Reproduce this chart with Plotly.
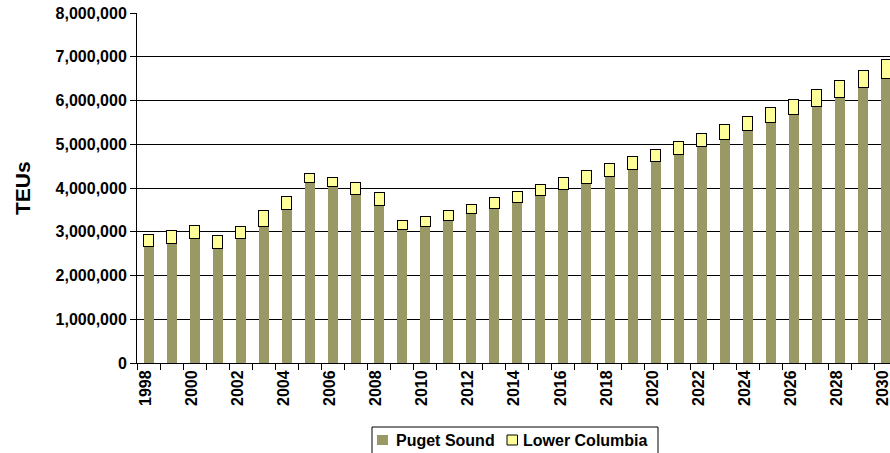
import plotly.graph_objects as go

years = list(range(1998, 2031))
puget_sound = [
    2665000, 2727000, 2841000, 2606000, 2857000, 3131000, 3520000, 4137000,
    4023000, 3847000, 3595000, 3047000, 3122000, 3260000, 3406000, 3534000,
    3671000, 3824000, 3961000, 4114000, 4265000, 4434000, 4608000, 4761000,
    4944000, 5120000, 5310000, 5486000, 5675000, 5874000, 6080000, 6308000,
    6514000,
]
lower_columbia = [
    261000, 297000, 297000, 297000, 258000, 357000, 281000, 190000,
    228000, 281000, 291000, 199000, 222000, 237000, 228000, 251000,
    251000, 251000, 268000, 275000, 297000, 281000, 283000, 304000,
    313000, 327000, 313000, 349000, 359000, 373000, 379000, 380000,
    412000,
]
label_years = [y for y in years if y % 2 == 0]

FONT = "Arial, Liberation Sans, sans-serif"
PS_COLOR = "#999966"
LC_COLOR = "#FFFF99"

# plot area in pixels: x 137..890, y 13..363
L, T, W, H = 137, 13, 753, 350


def px(x):
    return (x - L) / W


def py(y):
    return (T + H - y) / H


fig = go.Figure()
fig.add_trace(go.Bar(
    x=years, y=puget_sound, name="Puget Sound",
    marker=dict(color=PS_COLOR, line=dict(width=0)),
    width=0.434, showlegend=False,
))
fig.add_trace(go.Bar(
    x=years, y=lower_columbia, name="Lower Columbia",
    marker=dict(color=LC_COLOR, line=dict(color="black", width=1)),
    width=0.434, showlegend=False,
))

# legend box drawn below the axis
shapes = [
    dict(type="rect", xref="paper", yref="paper",
         x0=px(372), x1=px(658), y0=py(470), y1=py(427),
         line=dict(color="black", width=1), fillcolor="white", layer="above"),
    dict(type="rect", xref="paper", yref="paper",
         x0=px(377), x1=px(388), y0=py(445), y1=py(435),
         line=dict(width=0), fillcolor=PS_COLOR, layer="above"),
    dict(type="rect", xref="paper", yref="paper",
         x0=px(507), x1=px(517.5), y0=py(445), y1=py(435),
         line=dict(color="black", width=1), fillcolor=LC_COLOR, layer="above"),
]
annotations = [
    dict(text="Puget Sound", xref="paper", yref="paper",
         x=px(394), y=py(440), xanchor="left", yanchor="middle", showarrow=False,
         font=dict(family=FONT, size=16, weight="bold", color="black")),
    dict(text="Lower Columbia", xref="paper", yref="paper",
         x=px(521), y=py(440), xanchor="left", yanchor="middle", showarrow=False,
         font=dict(family=FONT, size=16, weight="bold", color="black")),
    dict(text="TEUs", xref="paper", yref="paper",
         x=px(22), y=0.5, xanchor="center", yanchor="middle", showarrow=False,
         textangle=-90,
         font=dict(family=FONT, size=21, weight="bold", color="black")),
]

fig.update_layout(
    width=890, height=453,
    barmode="stack",
    plot_bgcolor="white", paper_bgcolor="white",
    margin=dict(l=L, r=0, t=T, b=453 - T - H),
    font=dict(family=FONT, size=16, color="black"),
    showlegend=False,
    shapes=shapes,
    annotations=annotations,
    xaxis=dict(
        range=[1997.5, 2030.17],
        tickmode="array", tickvals=label_years,
        ticktext=[str(y) for y in label_years],
        tickangle=-90, ticks="",
        ticklabeloverflow="allow", ticklabelshift=-3,
        tickfont=dict(family=FONT, size=16, weight="bold", color="black"),
        showline=True, linecolor="black", linewidth=1,
        showgrid=False, zeroline=False, automargin=False,
        minor=dict(tick0=1997.5, dtick=1, ticks="outside", ticklen=6,
                   tickcolor="black", tickwidth=1, showgrid=False),
    ),
    yaxis=dict(
        range=[0, 8000000], dtick=1000000, tickformat=",",
        ticks="outside", ticklen=6, tickcolor="black",
        tickfont=dict(family=FONT, size=16, weight="bold", color="black"),
        showline=True, linecolor="black", linewidth=1,
        showgrid=True, gridcolor="black", gridwidth=1,
        zeroline=False, automargin=False,
    ),
)

fig.write_html("out.html")
